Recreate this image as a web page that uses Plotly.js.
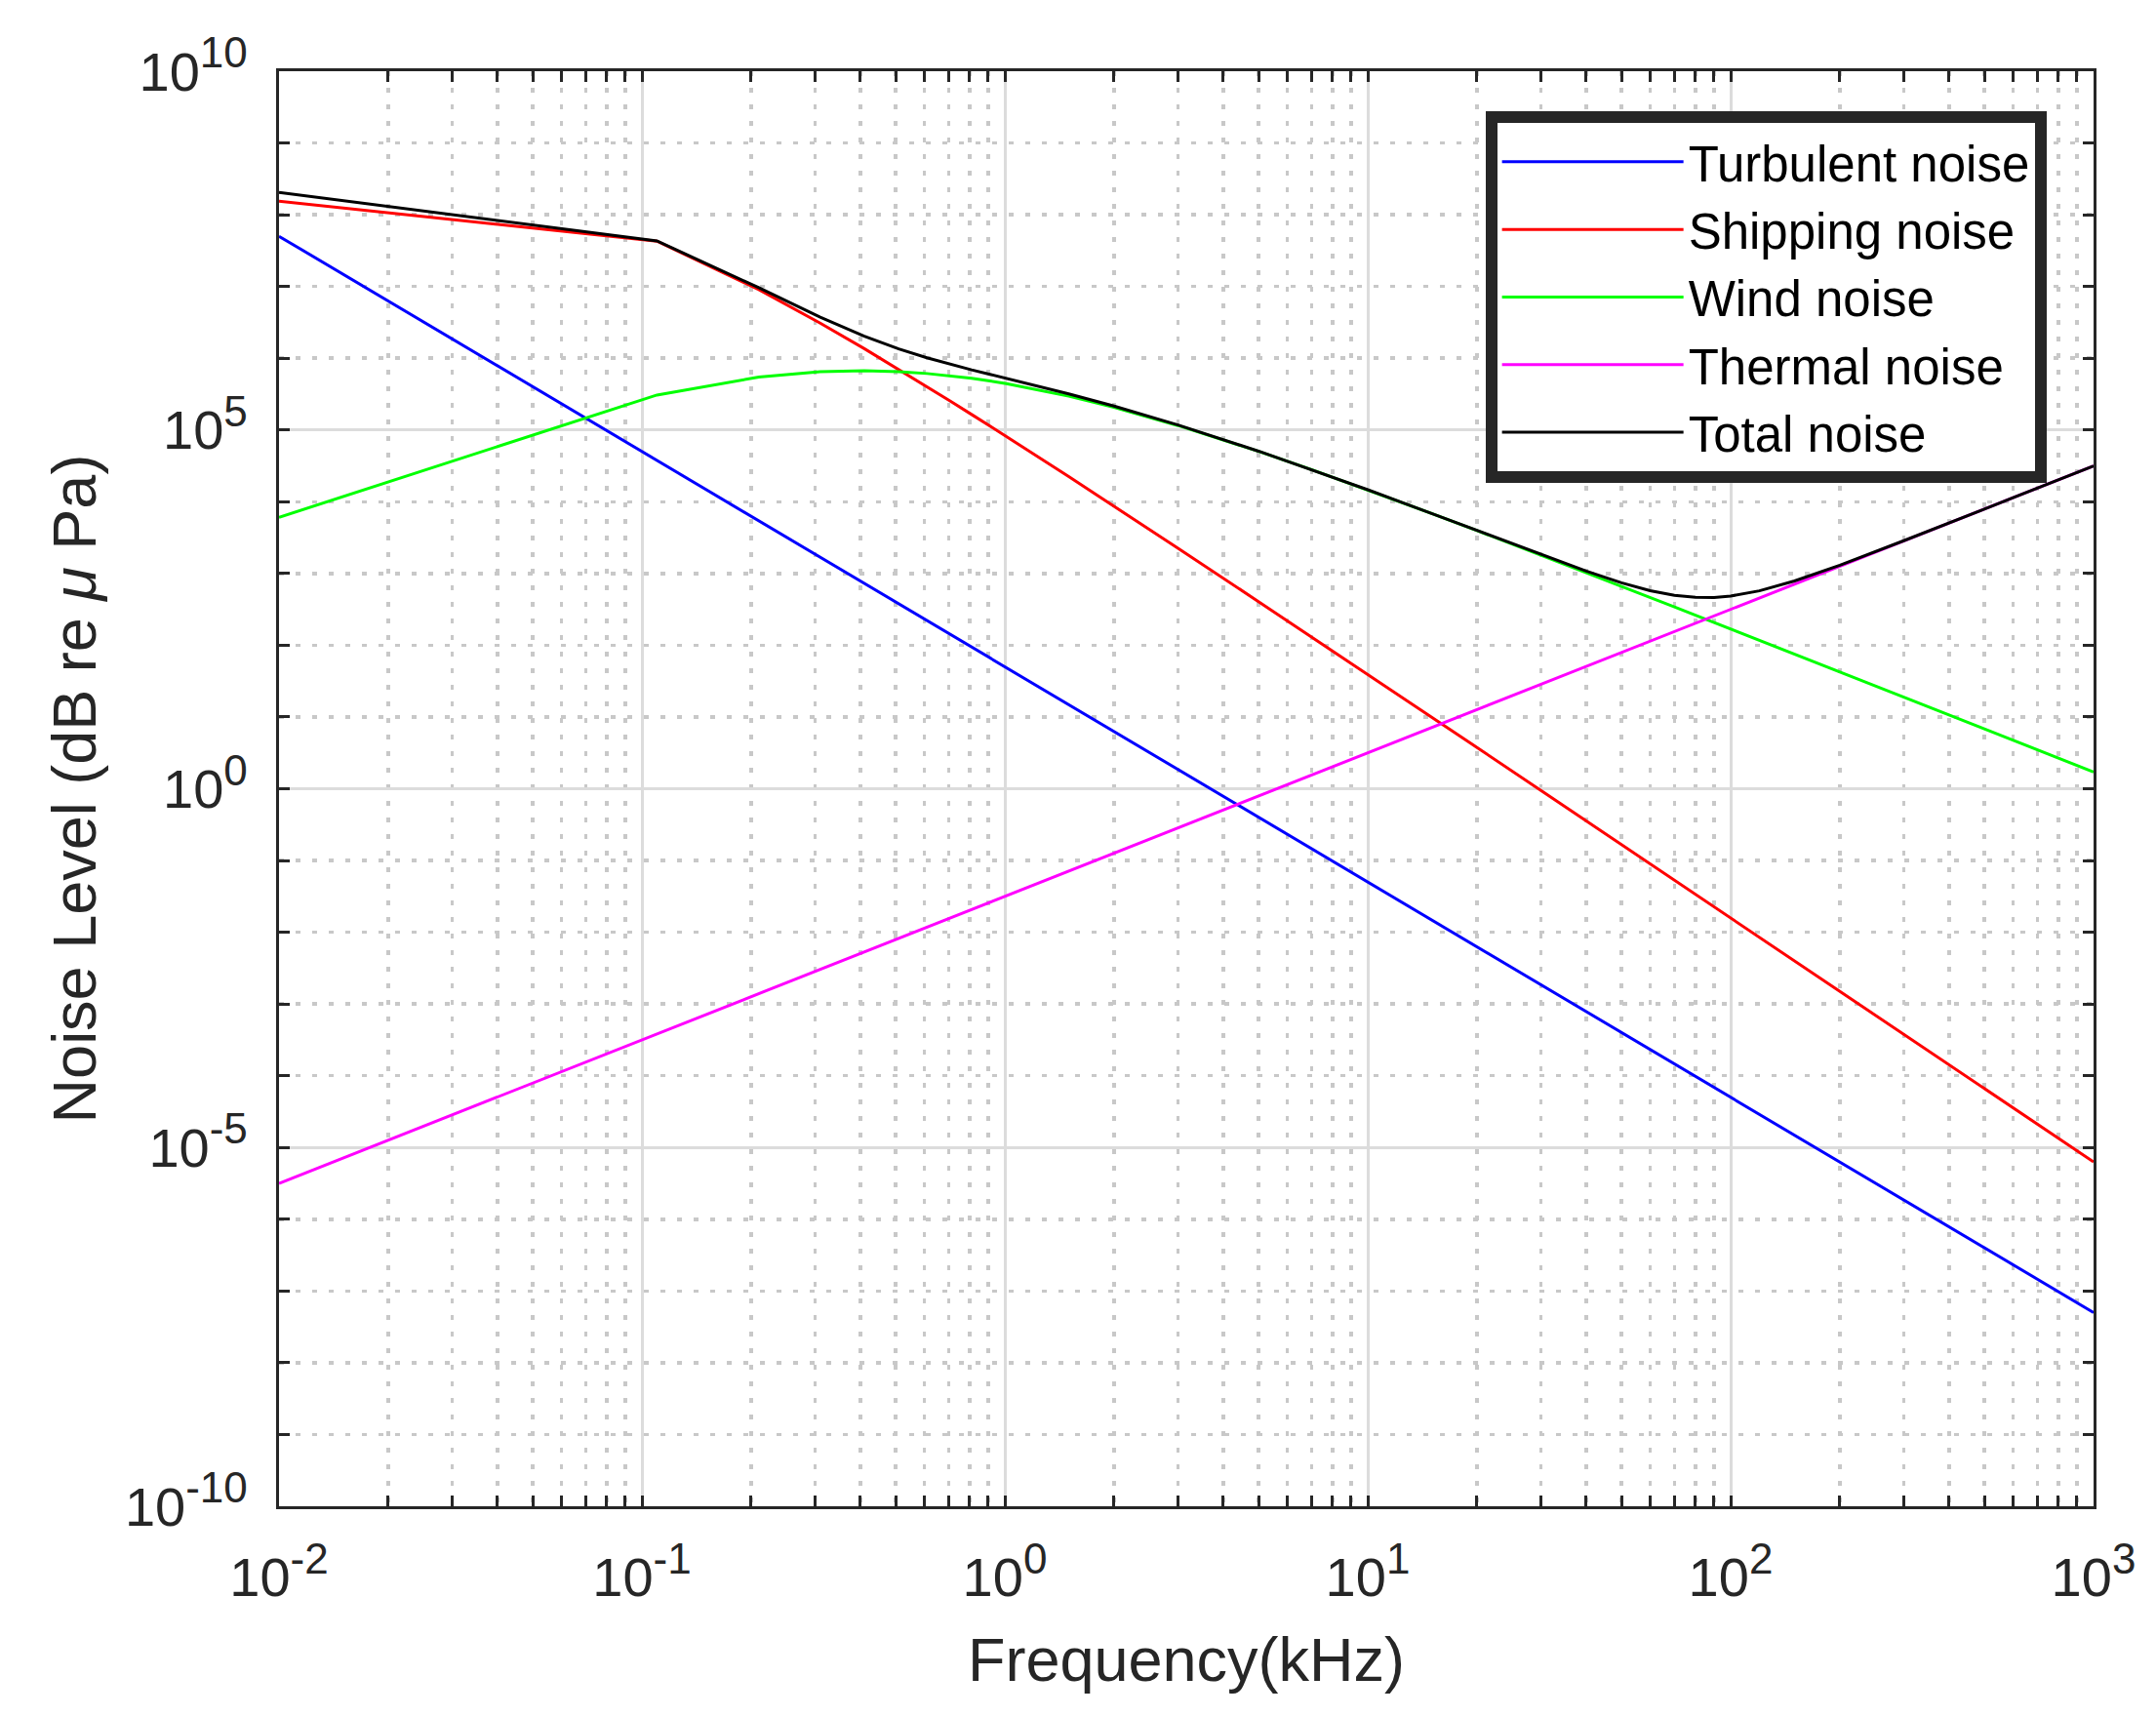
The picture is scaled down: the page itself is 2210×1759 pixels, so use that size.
<!DOCTYPE html>
<html>
<head>
<meta charset="utf-8">
<script src="https://cdn.plot.ly/plotly-3.0.1.min.js"></script>
<style>
  body { margin: 0; background: #fff; }
  #noisePlot { width: 2210px; height: 1759px; }
</style>
</head>
<body>
<div id="noisePlot"></div>
<script>
// Frequencies in kHz (sampling is coarse below 1 kHz, hence the visible kinks)
const freq = [0.01, 0.11, 0.21, 0.31, 0.41, 0.51, 0.61, 0.71, 0.81, 0.91, 1.01,
  1.5, 2, 3, 5, 7, 10, 15, 20, 30, 40, 50, 60, 70, 80, 90, 100,
  120, 150, 200, 300, 500, 700, 1000];

// Noise levels in dB
const turbulentDb = [77, 45.76, 37.33, 32.26, 28.62, 25.77, 23.44, 21.46, 19.75, 18.23, 16.87,
  11.72, 7.97, 2.69, -3.97, -8.35, -13, -18.28, -22.03, -27.31, -31.06, -33.97, -36.34, -38.35, -40.09, -41.63, -43,
  -45.38, -48.28, -52.03, -57.31, -63.97, -68.35, -73];
const shippingDb = [81.88, 76.31, 69.57, 64.89, 61.33, 58.45, 56.05, 53.98, 52.16, 50.55, 49.09,
  43.50, 39.38, 33.52, 26.08, 21.16, 15.92, 9.96, 5.75, -0.25, -4.49, -7.78, -10.47, -12.74, -14.72, -16.45, -18.01,
  -20.70, -23.99, -28.24, -34.22, -41.77, -46.73, -52.00];
const windDb = [37.83, 54.87, 57.37, 58.12, 58.26, 58.13, 57.87, 57.55, 57.20, 56.83, 56.46,
  54.71, 53.15, 50.62, 47.02, 44.47, 41.66, 38.36, 35.98, 32.57, 30.13, 28.22, 26.66, 25.34, 24.19, 23.18, 22.27,
  20.70, 18.77, 16.29, 12.77, 8.35, 5.43, 2.33];
const thermalDb = [-55, -34.17, -28.56, -25.17, -22.74, -20.85, -19.29, -17.97, -16.83, -15.82, -14.91,
  -11.48, -8.98, -5.46, -1.02, 1.90, 5, 8.52, 11.02, 14.54, 17.04, 18.98, 20.56, 21.90, 23.06, 24.08, 25,
  26.58, 28.52, 31.02, 34.54, 38.98, 41.90, 45];
const totalDb = [83.10, 76.35, 69.83, 65.72, 63.07, 61.30, 60.07, 59.13, 58.38, 57.75, 57.19,
  55.03, 53.33, 50.70, 47.05, 44.49, 41.67, 38.37, 36.00, 32.64, 30.34, 28.71, 27.61, 26.96, 26.67, 26.66, 26.86,
  27.58, 28.96, 31.16, 34.57, 38.98, 41.90, 45.00];

const seriesNames = ['Turbulent noise', 'Shipping noise', 'Wind noise', 'Thermal noise', 'Total noise'];
const seriesColors = ['#0000ff', '#ff0000', '#00ff00', '#ff00ff', '#000000'];

const xTickVals = [0.01, 0.1, 1, 10, 100, 1000];
const xExp = ['-2', '-1', '0', '1', '2', '3'];
const yTickVals = [1e-10, 1e-5, 1, 1e5, 1e10];
const yExp = ['-10', '-5', '0', '5', '10'];

// dB -> linear power, which is what the axis shows
function toLevel(db) {
  return db.map(v => Math.pow(10, v / 10));
}

// "10" with a slightly larger superscript than plotly's default
function powLabel(e) {
  return '10<sup><span style="font-size:44px">' + e + '</span></sup>';
}

// minor grid positions (2..9 per decade on x, every decade on y)
let xMinor = [];
for (let e = -2; e < 3; e++) {
  for (let m = 2; m < 10; m++) {
    xMinor.push(m * Math.pow(10, e));
  }
}
let yMinor = [];
for (let e = -10; e <= 10; e++) {
  if (e % 5 != 0) yMinor.push(Math.pow(10, e));
}

const allDb = [turbulentDb, shippingDb, windDb, thermalDb, totalDb];
let data = [];
for (let i = 0; i < allDb.length; i++) {
  data.push({
    x: freq,
    y: toLevel(allDb[i]),
    type: 'scatter',
    mode: 'lines',
    name: seriesNames[i],
    line: {color: seriesColors[i], width: 3}
  });
}

const fontFam = 'Liberation Sans, Arial, Helvetica, sans-serif';
const axisCol = '#262626';

function minorCfg(vals) {
  return {
    tickvals: vals,
    ticks: 'inside',
    ticklen: 11,
    tickwidth: 3,
    tickcolor: axisCol,
    showgrid: true,
    gridcolor: '#c8c8c8',
    gridwidth: 3.5,
    griddash: '5px,12px'
  };
}

const layout = {
  width: 2210,
  height: 1759,
  margin: {l: 286, r: 64, t: 73, b: 215, pad: 0},
  paper_bgcolor: '#ffffff',
  plot_bgcolor: '#ffffff',
  showlegend: true,
  font: {family: fontFam, color: axisCol},
  xaxis: {
    type: 'log',
    range: [-2, 3],
    showline: true, linecolor: axisCol, linewidth: 3, mirror: 'allticks',
    ticks: 'inside', ticklen: 11, tickwidth: 3, tickcolor: axisCol,
    tickvals: xTickVals, ticktext: xExp.map(powLabel),
    tickfont: {family: fontFam, size: 56, color: axisCol},
    ticklabelstandoff: 22,
    showgrid: true, gridcolor: '#dcdcdc', gridwidth: 3,
    zeroline: false,
    minor: minorCfg(xMinor),
    title: {text: 'Frequency(kHz)', font: {family: fontFam, size: 63, color: axisCol}, standoff: 32}
  },
  yaxis: {
    type: 'log',
    range: [-10, 10],
    showline: true, linecolor: axisCol, linewidth: 3, mirror: 'allticks',
    ticks: 'inside', ticklen: 11, tickwidth: 3, tickcolor: axisCol,
    tickvals: yTickVals, ticktext: yExp.map(powLabel),
    tickfont: {family: fontFam, size: 56, color: axisCol},
    ticklabelstandoff: 18,
    showgrid: true, gridcolor: '#dcdcdc', gridwidth: 3,
    zeroline: false,
    minor: minorCfg(yMinor),
    title: {text: 'Noise Level (dB re <i>μ</i> Pa)', font: {family: fontFam, size: 63, color: axisCol}, standoff: 9}
  },
  legend: {
    x: 0.974, xanchor: 'right',
    y: 0.972, yanchor: 'top',
    bgcolor: '#ffffff',
    bordercolor: axisCol,
    borderwidth: 12,
    font: {family: fontFam, size: 51, color: '#000000'},
    itemwidth: 186,
    tracegroupgap: 0
  }
};

Plotly.newPlot('noisePlot', data, layout, {displayModeBar: false, staticPlot: true});
</script>
</body>
</html>
